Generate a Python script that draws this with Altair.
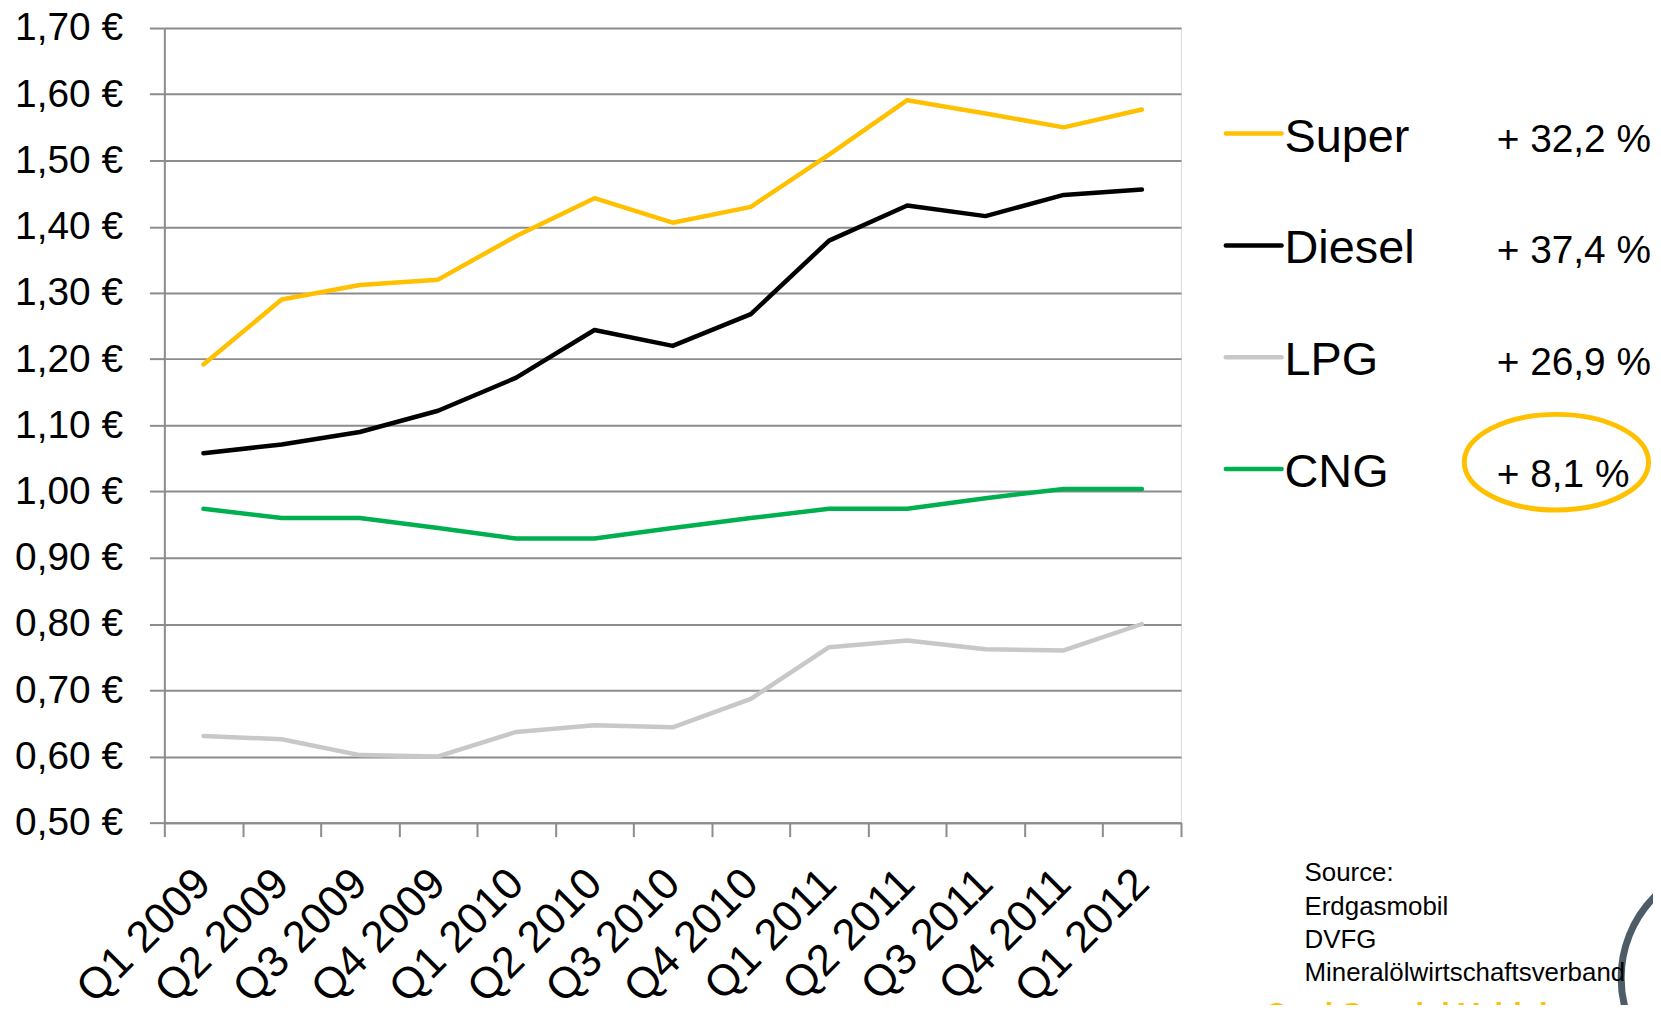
import altair as alt
import pandas as pd

quarters = ["Q1 2009", "Q2 2009", "Q3 2009", "Q4 2009",
            "Q1 2010", "Q2 2010", "Q3 2010", "Q4 2010",
            "Q1 2011", "Q2 2011", "Q3 2011", "Q4 2011", "Q1 2012"]
super_prices = [1.192, 1.290, 1.312, 1.320, 1.386, 1.443, 1.406, 1.430, 1.509, 1.591, 1.571, 1.550, 1.577]
diesel_prices = [1.058, 1.071, 1.090, 1.122, 1.172, 1.244, 1.220, 1.268, 1.379, 1.432, 1.416, 1.448, 1.456]
lpg_prices = [0.631, 0.626, 0.602, 0.600, 0.637, 0.647, 0.644, 0.687, 0.765, 0.775, 0.762, 0.760, 0.800]
cng_prices = [0.974, 0.960, 0.960, 0.945, 0.929, 0.929, 0.945, 0.960, 0.974, 0.974, 0.990, 1.004, 1.004]
fuels = ["Super", "Diesel", "LPG", "CNG"]
changes = ["+ 32,2 %", "+ 37,4 %", "+ 26,9 %", "+ 8,1 %"]
y_ticks = [0.5, 0.6, 0.7, 0.8, 0.9, 1.0, 1.1, 1.2, 1.3, 1.4, 1.5, 1.6, 1.7]
source_lines = ["Source:", "Erdgasmobil", "DVFG", "Mineralölwirtschaftsverband"]
footer_text = "Opel Special Vehicles"

colors = ["#FFC000", "#000000", "#C8C8C8", "#00B050"]
ORANGE = "#FFC000"
GRID = "#8C8C8C"
FONT = "Liberation Sans"

series = {"Super": super_prices, "Diesel": diesel_prices, "LPG": lpg_prices, "CNG": cng_prices}
rows = []
for f in fuels:
    for q, v in zip(quarters, series[f]):
        rows.append({"fuel": f, "quarter": q, "price": v})
df = pd.DataFrame(rows)

W, H = 1021, 798

lines = alt.Chart(df).mark_line(strokeWidth=4.5, strokeCap="round", strokeJoin="round").encode(
    x=alt.X("quarter:N", sort=quarters,
            scale=alt.Scale(paddingInner=0, paddingOuter=0),
            axis=alt.Axis(title=None, labelAngle=-45, labelAlign="right", labelBaseline="middle",
                          labelFont=FONT, labelFontSize=44, labelColor="black",
                          labelOverlap=False, tickBand="extent", tickSize=14, tickColor=GRID,
                          tickWidth=2, domainColor=GRID, domainWidth=2, labelPadding=40,
                          grid=False)),
    y=alt.Y("price:Q", scale=alt.Scale(domain=[0.5, 1.7], nice=False, zero=False),
            axis=alt.Axis(title=None, values=y_ticks,
                          labelExpr="replace(format(datum.value, '.2f'), '.', ',') + ' €'",
                          labelFont=FONT, labelFontSize=39, labelColor="black",
                          tickSize=15, tickColor=GRID, tickWidth=2, labelPadding=27,
                          domainColor=GRID, domainWidth=2,
                          grid=True, gridColor=GRID, gridWidth=2)),
    color=alt.Color("fuel:N", scale=alt.Scale(domain=fuels, range=colors), legend=None),
    detail="fuel:N",
)

layers = [lines]

# custom legend on the right
LEG_X1, LEG_X2 = 1066, 1122
LEG_Y0, LEG_STEP = 106, 112.3
TXT_X, PCT_X = 1125, 1338
TXT_BASE0 = 124
for i, (name, pct, col) in enumerate(zip(fuels, changes, colors)):
    d = pd.DataFrame({"fuel": [name], "change": [pct]})
    yl = LEG_Y0 + i * LEG_STEP
    layers.append(alt.Chart(d).mark_rule(strokeWidth=4.5, strokeCap="round").encode(
        x=alt.value(LEG_X1), x2=alt.value(LEG_X2), y=alt.value(yl), color=alt.value(col)))
    yt = TXT_BASE0 + i * LEG_STEP
    layers.append(alt.Chart(d).mark_text(align="left", baseline="alphabetic", font=FONT,
                                         fontSize=47, color="black").encode(
        x=alt.value(TXT_X), y=alt.value(yt), text="fuel:N"))
    layers.append(alt.Chart(d).mark_text(align="left", baseline="alphabetic", font=FONT,
                                         fontSize=39, color="black").encode(
        x=alt.value(PCT_X), y=alt.value(yt), text="change:N"))

# highlight ellipse around CNG change
ellipse_path = ("M 1 0 C 1 0.2866 0.5523 0.519 0 0.519 C -0.5523 0.519 -1 0.2866 -1 0 "
                "C -1 -0.2866 -0.5523 -0.519 0 -0.519 C 0.5523 -0.519 1 -0.2866 1 0 Z")
layers.append(alt.Chart(pd.DataFrame({"fuel": ["CNG"]})).mark_point(
    shape=ellipse_path, filled=False, strokeWidth=5, color=ORANGE, opacity=1, size=185 * 185).encode(
    x=alt.value(1398), y=alt.value(436)))

# logo ring (partly outside the page, as in the original)
layers.append(alt.Chart(pd.DataFrame({"fuel": ["logo"]})).mark_point(
    shape="circle", filled=False, strokeWidth=7, color="#4d5c66", opacity=1, size=232 * 232).encode(
    x=alt.value(1579), y=alt.value(954)))

# source note
for i, s in enumerate(source_lines):
    layers.append(alt.Chart(pd.DataFrame({"line": [s]})).mark_text(
        align="left", baseline="alphabetic", font=FONT, fontSize=26, color="black").encode(
        x=alt.value(1145), y=alt.value(857 + i * 33.3), text="line:N"))

# footer (cut at bottom edge)
layers.append(alt.Chart(pd.DataFrame({"t": [footer_text]})).mark_text(
    align="left", baseline="alphabetic", font=FONT, fontSize=31, fontWeight="bold", color=ORANGE).encode(
    x=alt.value(1105), y=alt.value(1001), text="t:N"))

chart = alt.layer(*layers).properties(
    width=W, height=H,
    autosize=alt.AutoSizeParams(type="none"),
    padding={"left": 157, "top": 18, "right": 474, "bottom": 181},
).configure_view(stroke=None).configure(background="white")

chart.save("out.html", embed_options={"renderer": "svg", "actions": False})
